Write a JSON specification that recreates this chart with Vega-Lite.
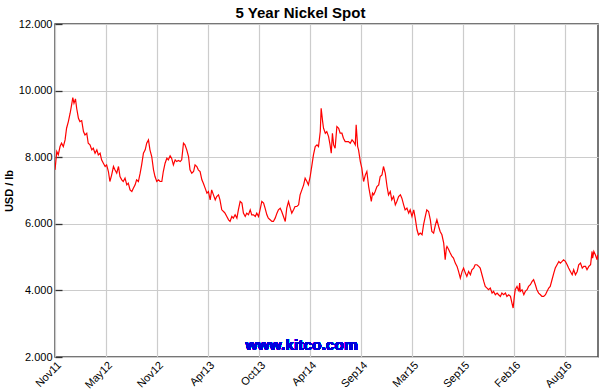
{
  "$schema": "https://vega.github.io/schema/vega-lite/v6.json",
  "width": 543,
  "height": 333,
  "autosize": "none",
  "padding": {"left": 55, "top": 24, "right": 2, "bottom": 35},
  "background": "white",
  "config": {
    "font": "Liberation Sans",
    "view": {"stroke": "#4a4a4a", "strokeWidth": 1.5},
    "axis": {"labelFont": "Liberation Sans", "titleFont": "Liberation Sans", "labelColor": "#000", "titleColor": "#000", "gridColor": "#cccccc", "gridWidth": 1.2, "gridOpacity": 1, "domain": false}
  },
  "title": {"text": "5 Year Nickel Spot", "fontSize": 15, "fontWeight": "bold", "font": "Liberation Sans", "color": "#000", "anchor": "middle", "dx": -26, "offset": 0, "dy": 3},
  "data": {"values": [
    {"date":"2011-11-28","price":7.62},{"date":"2011-12-04","price":8.17},{"date":"2011-12-09","price":8.07},{"date":"2011-12-15","price":8.32},{"date":"2011-12-20","price":8.42},{"date":"2011-12-26","price":8.32},
    {"date":"2012-01-01","price":8.52},{"date":"2012-01-06","price":8.87},{"date":"2012-01-12","price":9.07},{"date":"2012-01-18","price":9.32},{"date":"2012-01-23","price":9.57},{"date":"2012-01-27","price":9.79},{"date":"2012-01-31","price":9.62},
    {"date":"2012-02-05","price":9.75},{"date":"2012-02-09","price":9.47},{"date":"2012-02-15","price":9.17},{"date":"2012-02-20","price":9.07},{"date":"2012-02-26","price":9.1},
    {"date":"2012-03-03","price":8.77},{"date":"2012-03-08","price":8.67},{"date":"2012-03-14","price":8.72},{"date":"2012-03-19","price":8.42},{"date":"2012-03-25","price":8.37},{"date":"2012-03-31","price":8.22},
    {"date":"2012-04-05","price":8.27},{"date":"2012-04-11","price":8.12},{"date":"2012-04-17","price":8.22},{"date":"2012-04-22","price":8.07},{"date":"2012-04-28","price":8.12},
    {"date":"2012-05-03","price":7.92},{"date":"2012-05-09","price":7.82},{"date":"2012-05-15","price":7.72},{"date":"2012-05-20","price":7.77},{"date":"2012-05-26","price":7.57},{"date":"2012-05-31","price":7.27},
    {"date":"2012-06-06","price":7.47},{"date":"2012-06-12","price":7.72},{"date":"2012-06-17","price":7.62},{"date":"2012-06-23","price":7.52},{"date":"2012-06-29","price":7.72},
    {"date":"2012-07-04","price":7.42},{"date":"2012-07-10","price":7.32},{"date":"2012-07-15","price":7.27},{"date":"2012-07-21","price":7.37},{"date":"2012-07-27","price":7.17},
    {"date":"2012-08-01","price":7.22},{"date":"2012-08-07","price":7.02},{"date":"2012-08-13","price":6.97},{"date":"2012-08-18","price":7.07},{"date":"2012-08-24","price":7.17},{"date":"2012-08-29","price":7.32},
    {"date":"2012-09-04","price":7.27},{"date":"2012-09-10","price":7.52},{"date":"2012-09-15","price":7.77},{"date":"2012-09-21","price":8.12},{"date":"2012-09-27","price":8.22},
    {"date":"2012-10-02","price":8.42},{"date":"2012-10-08","price":8.52},{"date":"2012-10-13","price":8.22},{"date":"2012-10-19","price":8.02},{"date":"2012-10-25","price":7.62},{"date":"2012-10-30","price":7.42},
    {"date":"2012-11-05","price":7.27},{"date":"2012-11-11","price":7.32},{"date":"2012-11-16","price":7.27},{"date":"2012-11-22","price":7.27},{"date":"2012-11-27","price":7.57},
    {"date":"2012-12-03","price":7.82},{"date":"2012-12-09","price":7.97},{"date":"2012-12-14","price":7.92},{"date":"2012-12-20","price":8.04},{"date":"2012-12-25","price":7.97},{"date":"2012-12-31","price":7.77},
    {"date":"2013-01-06","price":7.92},{"date":"2013-01-11","price":7.87},{"date":"2013-01-17","price":7.9},{"date":"2013-01-23","price":7.87},{"date":"2013-01-28","price":7.92},
    {"date":"2013-02-03","price":8.42},{"date":"2013-02-08","price":8.37},{"date":"2013-02-14","price":8.22},{"date":"2013-02-20","price":8.02},{"date":"2013-02-25","price":7.62},
    {"date":"2013-03-03","price":7.52},{"date":"2013-03-09","price":7.57},{"date":"2013-03-14","price":7.77},{"date":"2013-03-20","price":7.72},{"date":"2013-03-25","price":7.62},{"date":"2013-03-31","price":7.57},
    {"date":"2013-04-06","price":7.32},{"date":"2013-04-11","price":7.22},{"date":"2013-04-17","price":7.07},{"date":"2013-04-23","price":6.92},{"date":"2013-04-28","price":6.97},
    {"date":"2013-05-04","price":6.72},{"date":"2013-05-09","price":7.02},{"date":"2013-05-15","price":6.87},{"date":"2013-05-21","price":6.72},{"date":"2013-05-26","price":6.82},
    {"date":"2013-06-01","price":6.87},{"date":"2013-06-06","price":6.72},{"date":"2013-06-12","price":6.42},{"date":"2013-06-18","price":6.37},{"date":"2013-06-23","price":6.32},{"date":"2013-06-29","price":6.22},
    {"date":"2013-07-05","price":6.12},{"date":"2013-07-10","price":6.07},{"date":"2013-07-16","price":6.22},{"date":"2013-07-21","price":6.17},{"date":"2013-07-27","price":6.27},
    {"date":"2013-08-02","price":6.17},{"date":"2013-08-07","price":6.42},{"date":"2013-08-13","price":6.67},{"date":"2013-08-19","price":6.62},{"date":"2013-08-24","price":6.32},{"date":"2013-08-30","price":6.22},
    {"date":"2013-09-04","price":6.32},{"date":"2013-09-10","price":6.27},{"date":"2013-09-16","price":6.42},{"date":"2013-09-21","price":6.27},{"date":"2013-09-27","price":6.27},
    {"date":"2013-10-03","price":6.22},{"date":"2013-10-08","price":6.32},{"date":"2013-10-14","price":6.22},{"date":"2013-10-19","price":6.42},{"date":"2013-10-25","price":6.67},{"date":"2013-10-31","price":6.62},
    {"date":"2013-11-05","price":6.47},{"date":"2013-11-11","price":6.27},{"date":"2013-11-16","price":6.17},{"date":"2013-11-22","price":6.12},{"date":"2013-11-28","price":6.07},
    {"date":"2013-12-03","price":6.07},{"date":"2013-12-09","price":6.17},{"date":"2013-12-15","price":6.32},{"date":"2013-12-20","price":6.42},{"date":"2013-12-26","price":6.47},{"date":"2013-12-31","price":6.37},
    {"date":"2014-01-06","price":6.22},{"date":"2014-01-12","price":6.07},{"date":"2014-01-17","price":6.47},{"date":"2014-01-23","price":6.67},{"date":"2014-01-29","price":6.47},
    {"date":"2014-02-03","price":6.32},{"date":"2014-02-09","price":6.42},{"date":"2014-02-14","price":6.52},{"date":"2014-02-20","price":6.52},{"date":"2014-02-26","price":6.57},
    {"date":"2014-03-03","price":6.87},{"date":"2014-03-09","price":7.02},{"date":"2014-03-15","price":7.17},{"date":"2014-03-20","price":7.37},{"date":"2014-03-26","price":7.27},{"date":"2014-03-31","price":7.17},
    {"date":"2014-04-06","price":7.42},{"date":"2014-04-12","price":7.77},{"date":"2014-04-17","price":8.07},{"date":"2014-04-23","price":8.32},{"date":"2014-04-29","price":8.37},
    {"date":"2014-05-04","price":8.32},{"date":"2014-05-10","price":8.77},{"date":"2014-05-13","price":9.47},{"date":"2014-05-18","price":9.07},{"date":"2014-05-21","price":8.87},{"date":"2014-05-27","price":8.72},
    {"date":"2014-06-01","price":8.77},{"date":"2014-06-07","price":8.62},{"date":"2014-06-12","price":8.37},{"date":"2014-06-16","price":8.12},{"date":"2014-06-20","price":8.72},{"date":"2014-06-24","price":8.37},{"date":"2014-06-29","price":8.27},
    {"date":"2014-07-05","price":8.92},{"date":"2014-07-11","price":8.87},{"date":"2014-07-16","price":8.72},{"date":"2014-07-22","price":8.72},{"date":"2014-07-27","price":8.57},
    {"date":"2014-08-02","price":8.47},{"date":"2014-08-08","price":8.47},{"date":"2014-08-13","price":8.47},{"date":"2014-08-19","price":8.42},{"date":"2014-08-25","price":8.52},{"date":"2014-08-30","price":8.47},
    {"date":"2014-09-05","price":8.37},{"date":"2014-09-08","price":8.97},{"date":"2014-09-13","price":8.32},{"date":"2014-09-16","price":8.22},{"date":"2014-09-22","price":7.87},{"date":"2014-09-27","price":7.67},
    {"date":"2014-10-03","price":7.27},{"date":"2014-10-09","price":7.47},{"date":"2014-10-14","price":7.57},{"date":"2014-10-20","price":7.12},{"date":"2014-10-25","price":6.87},{"date":"2014-10-29","price":6.67},
    {"date":"2014-11-02","price":6.92},{"date":"2014-11-06","price":6.87},{"date":"2014-11-11","price":6.97},{"date":"2014-11-17","price":7.12},{"date":"2014-11-23","price":7.17},{"date":"2014-11-28","price":7.42},
    {"date":"2014-12-04","price":7.47},{"date":"2014-12-09","price":7.72},{"date":"2014-12-15","price":7.52},{"date":"2014-12-21","price":7.12},{"date":"2014-12-26","price":6.87},
    {"date":"2015-01-01","price":6.97},{"date":"2015-01-06","price":6.72},{"date":"2015-01-12","price":6.82},{"date":"2015-01-18","price":6.57},{"date":"2015-01-23","price":6.67},{"date":"2015-01-29","price":6.82},
    {"date":"2015-02-04","price":6.87},{"date":"2015-02-09","price":6.77},{"date":"2015-02-15","price":6.57},{"date":"2015-02-20","price":6.42},{"date":"2015-02-26","price":6.47},
    {"date":"2015-03-04","price":6.32},{"date":"2015-03-09","price":6.42},{"date":"2015-03-15","price":6.22},{"date":"2015-03-21","price":6.42},{"date":"2015-03-26","price":6.17},
    {"date":"2015-04-01","price":5.82},{"date":"2015-04-06","price":5.67},{"date":"2015-04-12","price":5.72},{"date":"2015-04-18","price":5.67},{"date":"2015-04-23","price":5.97},{"date":"2015-04-29","price":6.22},
    {"date":"2015-05-04","price":6.42},{"date":"2015-05-10","price":6.37},{"date":"2015-05-16","price":6.12},{"date":"2015-05-21","price":5.77},{"date":"2015-05-27","price":5.72},
    {"date":"2015-06-02","price":5.97},{"date":"2015-06-07","price":6.12},{"date":"2015-06-13","price":5.92},{"date":"2015-06-18","price":5.77},{"date":"2015-06-24","price":5.67},{"date":"2015-06-30","price":5.42},
    {"date":"2015-07-05","price":4.92},{"date":"2015-07-09","price":5.27},{"date":"2015-07-11","price":5.32},{"date":"2015-07-17","price":5.22},{"date":"2015-07-22","price":5.12},{"date":"2015-07-28","price":5.02},
    {"date":"2015-08-02","price":4.97},{"date":"2015-08-08","price":4.82},{"date":"2015-08-14","price":4.72},{"date":"2015-08-19","price":4.57},{"date":"2015-08-25","price":4.37},{"date":"2015-08-31","price":4.57},
    {"date":"2015-09-05","price":4.67},{"date":"2015-09-11","price":4.52},{"date":"2015-09-16","price":4.42},{"date":"2015-09-22","price":4.57},{"date":"2015-09-28","price":4.47},
    {"date":"2015-10-03","price":4.62},{"date":"2015-10-09","price":4.67},{"date":"2015-10-14","price":4.77},{"date":"2015-10-20","price":4.77},{"date":"2015-10-26","price":4.72},{"date":"2015-10-31","price":4.67},
    {"date":"2015-11-06","price":4.47},{"date":"2015-11-12","price":4.27},{"date":"2015-11-17","price":4.12},{"date":"2015-11-23","price":4.07},{"date":"2015-11-28","price":4.02},
    {"date":"2015-12-04","price":4.07},{"date":"2015-12-10","price":3.92},{"date":"2015-12-15","price":3.97},{"date":"2015-12-21","price":3.87},{"date":"2015-12-27","price":3.92},
    {"date":"2016-01-01","price":3.87},{"date":"2016-01-07","price":3.82},{"date":"2016-01-12","price":3.92},{"date":"2016-01-18","price":3.87},{"date":"2016-01-24","price":3.92},{"date":"2016-01-29","price":3.82},
    {"date":"2016-02-04","price":3.87},{"date":"2016-02-10","price":3.82},{"date":"2016-02-15","price":3.62},{"date":"2016-02-19","price":3.47},{"date":"2016-02-23","price":3.82},{"date":"2016-02-26","price":4.02},
    {"date":"2016-03-03","price":4.12},{"date":"2016-03-09","price":3.97},{"date":"2016-03-12","price":4.22},{"date":"2016-03-14","price":3.97},{"date":"2016-03-20","price":4.02},{"date":"2016-03-26","price":3.87},{"date":"2016-03-31","price":3.97},
    {"date":"2016-04-06","price":4.02},{"date":"2016-04-11","price":4.12},{"date":"2016-04-17","price":4.17},{"date":"2016-04-23","price":4.27},{"date":"2016-04-28","price":4.32},
    {"date":"2016-05-04","price":4.17},{"date":"2016-05-09","price":4.02},{"date":"2016-05-15","price":3.92},{"date":"2016-05-21","price":3.87},{"date":"2016-05-26","price":3.82},
    {"date":"2016-06-01","price":3.82},{"date":"2016-06-07","price":3.87},{"date":"2016-06-12","price":3.97},{"date":"2016-06-18","price":4.07},{"date":"2016-06-23","price":4.12},{"date":"2016-06-29","price":4.32},
    {"date":"2016-07-05","price":4.52},{"date":"2016-07-10","price":4.67},{"date":"2016-07-16","price":4.77},{"date":"2016-07-22","price":4.87},{"date":"2016-07-27","price":4.82},
    {"date":"2016-08-02","price":4.87},{"date":"2016-08-07","price":4.92},{"date":"2016-08-13","price":4.87},{"date":"2016-08-19","price":4.77},{"date":"2016-08-24","price":4.67},{"date":"2016-08-30","price":4.57},
    {"date":"2016-09-05","price":4.47},{"date":"2016-09-10","price":4.62},{"date":"2016-09-16","price":4.47},{"date":"2016-09-22","price":4.57},{"date":"2016-09-27","price":4.77},
    {"date":"2016-10-03","price":4.82},{"date":"2016-10-09","price":4.67},{"date":"2016-10-14","price":4.72},{"date":"2016-10-20","price":4.72},{"date":"2016-10-25","price":4.62},{"date":"2016-10-31","price":4.72},
    {"date":"2016-11-06","price":4.77},{"date":"2016-11-11","price":5.17},{"date":"2016-11-13","price":4.97},{"date":"2016-11-17","price":5.17},{"date":"2016-11-22","price":5.07},{"date":"2016-11-28","price":4.92},{"date":"2016-11-30","price":5.07}
  ]},
  "layer": [
    {
      "mark": {"type": "line", "color": "#ff0000", "strokeWidth": 1.2, "clip": true},
      "encoding": {
        "x": {"field": "date", "type": "temporal",
          "scale": {"domain": [{"year": 2011, "month": 11, "date": 28}, {"year": 2016, "month": 12, "date": 1}]},
          "axis": {"title": null, "grid": true, "ticks": false, "labelAngle": -45, "labelAlign": "right", "labelBaseline": "top", "labelFontSize": 11, "labelPadding": 2, "labelOverlap": false,
            "values": [
              {"year": 2011, "month": 11, "date": 28}, {"year": 2012, "month": 2, "date": 22, "hours": 12},
              {"year": 2012, "month": 5, "date": 18}, {"year": 2012, "month": 8, "date": 12, "hours": 12},
              {"year": 2012, "month": 11, "date": 6}, {"year": 2013, "month": 1, "date": 31, "hours": 12},
              {"year": 2013, "month": 4, "date": 27}, {"year": 2013, "month": 7, "date": 22, "hours": 12},
              {"year": 2013, "month": 10, "date": 16}, {"year": 2014, "month": 1, "date": 10, "hours": 12},
              {"year": 2014, "month": 4, "date": 6}, {"year": 2014, "month": 7, "date": 1, "hours": 12},
              {"year": 2014, "month": 9, "date": 25}, {"year": 2014, "month": 12, "date": 20, "hours": 12},
              {"year": 2015, "month": 3, "date": 16}, {"year": 2015, "month": 6, "date": 10, "hours": 12},
              {"year": 2015, "month": 9, "date": 4}, {"year": 2015, "month": 11, "date": 29, "hours": 12},
              {"year": 2016, "month": 2, "date": 23}, {"year": 2016, "month": 5, "date": 19, "hours": 12},
              {"year": 2016, "month": 8, "date": 13}, {"year": 2016, "month": 11, "date": 7, "hours": 12}
            ],
            "labelExpr": "hours(datum.value) == 0 ? timeFormat(datum.value, '%b%y') : ''"}},
        "y": {"field": "price", "type": "quantitative",
          "scale": {"domain": [2, 12], "nice": false, "zero": false},
          "axis": {"title": "USD / lb", "titleFontSize": 11, "titleFontWeight": "bold", "titlePadding": 4, "values": [2, 4, 6, 8, 10, 12], "format": ".3f", "labelFontSize": 11, "grid": true, "ticks": true, "tickSize": -7, "tickColor": "#333", "tickWidth": 1.3, "labelPadding": 10}}
      }
    },
    {
      "mark": {"type": "text", "text": "www.kitco.com", "color": "#0000dd", "fontSize": 15.5, "fontWeight": "bold", "font": "Liberation Sans", "align": "center", "baseline": "alphabetic"},
      "encoding": {
        "x": {"datum": {"year": 2014, "month": 3, "date": 8}, "type": "temporal"},
        "y": {"datum": 2.2, "type": "quantitative"}
      }
    }
  ]
}
